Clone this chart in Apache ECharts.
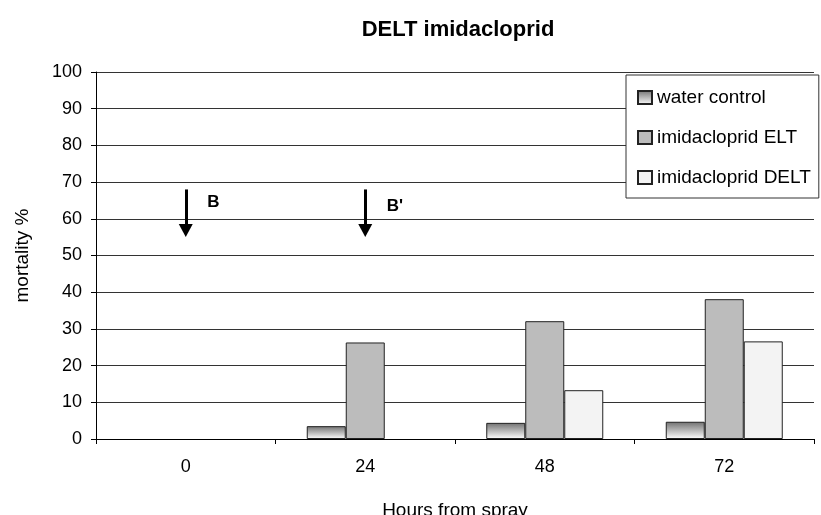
<!DOCTYPE html>
<html>
<head>
<meta charset="utf-8">
<script src="https://cdn.jsdelivr.net/npm/echarts@6/dist/echarts.min.js"></script>
<style>html,body{margin:0;padding:0;background:#fff;}#c{width:821px;height:515px;}</style>
</head>
<body>
<div id="c"></div>
<script>
const categories = ['0', '24', '48', '72'];
const waterControl = [0, 3.5, 4.4, 4.7];
const imidaclopridELT = [0, 26.3, 32.1, 38.1];
const imidaclopridDELT = [0, 0, 13.3, 26.6];
const seriesNames = ['water control', 'imidacloprid ELT', 'imidacloprid DELT'];
const arrowCats = ['0', '24'];
const arrowLabels = ['B', "B'"];
const arrowLabelY = [64.5, 63.5];
const arrowTop = 68;
const arrowTip = 55;

const font = 'Liberation Sans, Arial, sans-serif';
const chart = echarts.init(document.getElementById('c'));
const border = {borderColor: '#222', borderWidth: 1};

// zero-height bars draw nothing in the reference
function barData(arr) {
  return arr.map(v => v === 0 ? {value: v, itemStyle: {borderWidth: 0}} : v);
}

chart.setOption({
  animation: false,
  backgroundColor: '#fff',
  title: {
    text: 'DELT imidacloprid',
    left: 453, top: 14, textAlign: 'center',
    textStyle: {fontFamily: font, fontSize: 22, fontWeight: 'bold', color: '#000'}
  },
  grid: {left: 96, right: 7, top: 72, bottom: 76, outerBoundsMode: 'none', containLabel: false},
  legend: {
    orient: 'vertical',
    left: 626, top: 75,
    padding: [13, 8, 11, 11],
    itemWidth: 14, itemHeight: 13, itemGap: 21,
    backgroundColor: '#fff',
    borderColor: '#333', borderWidth: 1,
    icon: 'rect',
    textStyle: {fontFamily: font, fontSize: 19, color: '#000', padding: [0, 0, 0, 0]},
    data: seriesNames
  },
  xAxis: {
    type: 'category',
    data: categories,
    name: 'Hours from spray',
    nameLocation: 'middle',
    nameGap: 62,
    nameTextStyle: {fontFamily: font, fontSize: 19, color: '#000'},
    axisLine: {lineStyle: {color: '#000', width: 1}},
    axisTick: {show: true, length: 5, lineStyle: {color: '#000'}},
    axisLabel: {fontFamily: font, fontSize: 18, color: '#000', margin: 19},
    splitLine: {show: false}
  },
  yAxis: {
    type: 'value',
    min: 0, max: 100, interval: 10,
    name: 'mortality %',
    nameLocation: 'middle',
    nameGap: 64,
    nameTextStyle: {fontFamily: font, fontSize: 19, color: '#000'},
    axisLine: {show: true, lineStyle: {color: '#000', width: 1}},
    axisTick: {show: true, length: 5, lineStyle: {color: '#000'}},
    axisLabel: {fontFamily: font, fontSize: 18, color: '#000', margin: 14},
    splitLine: {show: true, lineStyle: {color: '#333', width: 1}}
  },
  series: [
    {
      name: seriesNames[0], type: 'bar', data: barData(waterControl),
      barWidth: 39, barGap: '0%',
      itemStyle: Object.assign({
        color: new echarts.graphic.LinearGradient(0, 0, 0, 1, [
          {offset: 0, color: '#707070'},
          {offset: 1, color: '#ffffff'}
        ])
      }, border)
    },
    {
      name: seriesNames[1], type: 'bar', data: barData(imidaclopridELT),
      barWidth: 39, barGap: '0%',
      itemStyle: Object.assign({color: '#bcbcbc'}, border),
      markLine: {
        silent: true,
        symbol: ['none', 'triangle'],
        symbolSize: [14, 13],
        label: {show: false},
        lineStyle: {color: '#000', width: 3, type: 'solid'},
        data: arrowCats.map(c => [
          {coord: [c, arrowTop]},
          {coord: [c, arrowTip + 1.8]}
        ])
      },
      markPoint: {
        silent: true,
        symbol: 'rect', symbolSize: 1,
        itemStyle: {color: 'rgba(0,0,0,0)'},
        label: {
          show: true, position: 'right', distance: 0, offset: [21, 0],
          fontFamily: font, fontSize: 17, fontWeight: 'bold', color: '#000',
          formatter: p => p.name
        },
        data: arrowCats.map((c, i) => ({name: arrowLabels[i], coord: [c, arrowLabelY[i]]}))
      }
    },
    {
      name: seriesNames[2], type: 'bar', data: barData(imidaclopridDELT),
      barWidth: 39, barGap: '0%',
      itemStyle: Object.assign({color: '#f3f3f3'}, border)
    }
  ]
});
</script>
</body>
</html>
